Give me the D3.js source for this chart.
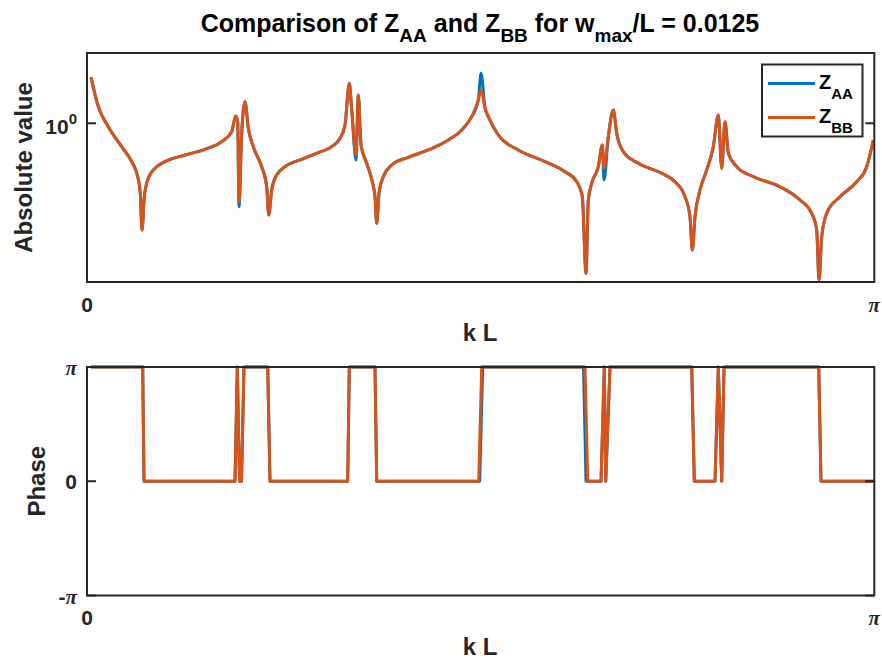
<!DOCTYPE html>
<html>
<head>
<meta charset="utf-8">
<script src="https://cdn.jsdelivr.net/npm/d3@7"></script>
<style>
body { margin: 0; background: #fff; }
text { font-family: "Liberation Sans", Arial, sans-serif; font-weight: bold; fill: #262626; }
.pi { font-family: "Liberation Serif", "DejaVu Serif", serif; font-style: italic; font-weight: bold; }
</style>
</head>
<body>
<div id="chart"></div>
<script>
// kL samples of the magnitude curves
var kL = [0.016, 0.0451, 0.085, 0.1385, 0.1784, 0.2023, 0.2127, 0.2195, 0.2287, 0.2446,
  0.2713, 0.3113, 0.3911, 0.4709, 0.5375, 0.5774, 0.5934, 0.6014, 0.6065, 0.6173,
  0.6305, 0.6437, 0.6636, 0.6971, 0.7171, 0.7251, 0.737, 0.757, 0.7901, 0.8567,
  0.923, 0.9765, 1.0096, 1.0295, 1.0467, 1.0563, 1.0734, 1.0826, 1.0934, 1.1161,
  1.1385, 1.1492, 1.156, 1.1652, 1.1824, 1.2159, 1.2821, 1.3619, 1.4417, 1.4952,
  1.5351, 1.5615, 1.5722, 1.5882, 1.6014, 1.6413, 1.7211, 1.8276, 1.9074, 1.9541,
  1.9765, 1.9912, 2.0004, 2.014, 2.0403, 2.0563, 2.063, 2.0802, 2.1002, 2.1137,
  2.1401, 2.1999, 2.2933, 2.3464, 2.3863, 2.4062, 2.4154, 2.4262, 2.4461, 2.4729,
  2.4992, 2.5192, 2.5327, 2.5459, 2.5591, 2.5926, 2.6588, 2.7653, 2.8452, 2.8918,
  2.9118, 2.921, 2.9318, 2.9517, 3.0048, 3.0714, 3.1113, 3.1377];

// |Z_AA|
var absAA = [2.417, 1.375, 0.937, 0.638, 0.479, 0.359, 0.261, 0.129, 0.2445, 0.348,
  0.422, 0.479, 0.544, 0.607, 0.703, 0.851, 1.150, 1.031, 0.202, 0.825,
  1.514, 0.908, 0.638, 0.435, 0.296, 0.172, 0.278, 0.371, 0.435, 0.501,
  0.569, 0.638, 0.750, 0.968, 2.154, 1.291, 0.494, 1.721, 0.659, 0.464,
  0.326, 0.2445, 0.1468, 0.261, 0.359, 0.449, 0.521, 0.599, 0.726, 0.880,
  1.135, 1.564, 2.610, 1.341, 1.135, 0.799, 0.599, 0.479, 0.395, 0.326,
  0.2445, 0.0562, 0.2296, 0.316, 0.435, 0.659, 0.337, 0.773, 1.291, 0.825,
  0.580, 0.464, 0.383, 0.326, 0.2445, 0.1666, 0.0879, 0.1666, 0.278, 0.408,
  0.638, 1.173, 0.422, 1.031, 0.562, 0.435, 0.359, 0.296, 0.2296, 0.178,
  0.129, 0.0494, 0.1135, 0.178, 0.2445, 0.326, 0.435, 0.726];

// |Z_BB|
var absBB = [2.417, 1.375, 0.937, 0.638, 0.479, 0.359, 0.261, 0.129, 0.2445, 0.348,
  0.422, 0.479, 0.544, 0.607, 0.703, 0.851, 1.150, 1.031, 0.222, 0.825,
  1.514, 0.908, 0.638, 0.435, 0.296, 0.172, 0.278, 0.371, 0.435, 0.501,
  0.569, 0.638, 0.750, 0.968, 2.154, 1.291, 0.544, 1.721, 0.659, 0.464,
  0.326, 0.2445, 0.1468, 0.261, 0.359, 0.449, 0.521, 0.599, 0.726, 0.880,
  1.135, 1.564, 1.895, 1.341, 1.135, 0.799, 0.599, 0.479, 0.395, 0.326,
  0.2445, 0.0562, 0.2296, 0.316, 0.435, 0.659, 0.422, 0.773, 1.291, 0.825,
  0.580, 0.464, 0.383, 0.326, 0.2445, 0.1666, 0.0879, 0.1666, 0.278, 0.408,
  0.638, 1.173, 0.422, 1.031, 0.562, 0.435, 0.359, 0.296, 0.2296, 0.178,
  0.129, 0.0494, 0.1135, 0.178, 0.2445, 0.326, 0.435, 0.726];

// phase curves (breakpoints)
var phaseKL_AA = [0.016, 0.2223, 0.2275, 0.5906, 0.5998, 0.6085, 0.6165, 0.6265, 0.7211, 0.7302,
  1.0403, 1.0467, 1.1492, 1.156, 1.567, 1.579, 1.9812, 1.9912, 2.0511, 2.0643,
  2.0698, 2.087, 2.413, 2.4234, 2.506, 2.5192, 2.5327, 2.5419, 2.9198, 2.929, 3.1377];
var phaseKL_BB = [0.016, 0.2223, 0.2275, 0.5906, 0.5998, 0.6085, 0.6165, 0.6265, 0.7211, 0.7302,
  1.0403, 1.0467, 1.1492, 1.156, 1.563, 1.575, 1.9872, 1.998, 2.0511, 2.0643,
  2.0698, 2.087, 2.413, 2.4234, 2.506, 2.5192, 2.5327, 2.5419, 2.9198, 2.929, 3.1377];
var phaseAA = [3.1416, 3.1416, 0, 0, 3.1416, 0, 0, 3.1416, 3.1416, 0,
  0, 3.1416, 3.1416, 0, 0, 3.1416, 3.1416, 0, 0, 3.1416,
  0, 3.1416, 3.1416, 0, 0, 3.1416, 0, 3.1416, 3.1416, 0, 0];
var phaseBB = phaseAA.slice();

var seriesNames = ["AA", "BB"];
var colors = ["#0072BD", "#D95319"];
var xTickLabels = ["0", "π"];
var phaseTickLabels = ["-π", "0", "π"];

var W = 882, H = 663;
var ink = "#262626";

var svg = d3.select("#chart").append("svg")
  .attr("width", W).attr("height", H);

// axes boxes
var top1 = {left: 87, right: 874.3, top: 53, bottom: 282};
var bot1 = {left: 87, right: 874.3, top: 367, bottom: 595.5};

var x1 = d3.scaleLinear().domain([0, Math.PI]).range([top1.left, top1.right]);
var y1 = d3.scaleLog().domain([0.0476, 3.85]).range([top1.bottom, top1.top]);
var x2 = d3.scaleLinear().domain([0, Math.PI]).range([bot1.left, bot1.right]);
var y2 = d3.scaleLinear().domain([-Math.PI, Math.PI]).range([bot1.bottom, bot1.top]);

svg.append("clipPath").attr("id", "clipTop").append("rect")
  .attr("x", top1.left).attr("y", top1.top)
  .attr("width", top1.right - top1.left).attr("height", top1.bottom - top1.top);
svg.append("clipPath").attr("id", "clipBot").append("rect")
  .attr("x", bot1.left).attr("y", bot1.top - 3)
  .attr("width", bot1.right - bot1.left).attr("height", bot1.bottom - bot1.top + 6);

// ---- magnitude plot ----
var magLine = d3.line()
  .curve(d3.curveMonotoneX)
  .x(function(d) { return x1(d[0]); })
  .y(function(d) { return y1(d[1]); });

[absAA, absBB].forEach(function(vals, i) {
  svg.append("path")
    .datum(kL.map(function(k, j) { return [k, vals[j]]; }))
    .attr("clip-path", "url(#clipTop)")
    .attr("fill", "none")
    .attr("stroke", colors[i])
    .attr("stroke-width", 3)
    .attr("stroke-linejoin", "round")
    .attr("d", magLine);
});

// ---- phase plot ----
var phLine = d3.line()
  .x(function(d) { return x2(d[0]); })
  .y(function(d) { return y2(d[1]); });

[[phaseKL_AA, phaseAA], [phaseKL_BB, phaseBB]].forEach(function(s, i) {
  svg.append("path")
    .datum(s[0].map(function(k, j) { return [k, s[1][j]]; }))
    .attr("clip-path", "url(#clipBot)")
    .attr("fill", "none")
    .attr("stroke", colors[i])
    .attr("stroke-width", 3)
    .attr("stroke-linejoin", "round")
    .attr("d", phLine);
});

// axes frames
function frame(b) {
  svg.append("rect")
    .attr("x", b.left).attr("y", b.top)
    .attr("width", b.right - b.left).attr("height", b.bottom - b.top)
    .attr("fill", "none").attr("stroke", ink).attr("stroke-width", 2);
}
frame(top1);
frame(bot1);

// y ticks, both sides, inward
function yTicks(scale, vals, b) {
  vals.forEach(function(v) {
    var yy = scale(v);
    svg.append("line").attr("x1", b.left).attr("x2", b.left + 9)
      .attr("y1", yy).attr("y2", yy).attr("stroke", ink).attr("stroke-width", 2);
    svg.append("line").attr("x1", b.right).attr("x2", b.right - 9)
      .attr("y1", yy).attr("y2", yy).attr("stroke", ink).attr("stroke-width", 2);
  });
}
yTicks(y1, [1], top1);
yTicks(y2, [-Math.PI, 0, Math.PI], bot1);

// top y tick label 10^0
var t10 = svg.append("text").attr("x", 77).attr("y", y1(1) + 11)
  .attr("text-anchor", "end").style("font-size", "21px");
t10.append("tspan").text("10");
t10.append("tspan").attr("dy", -10).style("font-size", "15px").text("0");

// phase tick labels
[-Math.PI, 0, Math.PI].forEach(function(v, i) {
  var lab = phaseTickLabels[i];
  var t = svg.append("text").attr("x", 77).attr("y", y2(v) + 8)
    .attr("text-anchor", "end").style("font-size", "21px");
  if (lab === "0") {
    t.text(lab);
  } else {
    if (lab[0] === "-") t.append("tspan").text("-");
    t.append("tspan").attr("class", "pi").text("π");
  }
});

// x tick labels
[[x1, 312], [x2, 625]].forEach(function(s) {
  [0, Math.PI].forEach(function(v, i) {
    svg.append("text")
      .attr("class", i === 1 ? "pi" : null)
      .attr("x", s[0](v)).attr("y", s[1])
      .attr("text-anchor", "middle").style("font-size", "21px")
      .text(xTickLabels[i]);
  });
});

// axis labels
svg.append("text").attr("x", 480).attr("y", 341)
  .attr("text-anchor", "middle").style("font-size", "24px").text("k L");
svg.append("text").attr("x", 480).attr("y", 655)
  .attr("text-anchor", "middle").style("font-size", "24px").text("k L");
svg.append("text")
  .attr("transform", "translate(32," + (top1.top + top1.bottom) / 2 + ") rotate(-90)")
  .attr("text-anchor", "middle").style("font-size", "24px").text("Absolute value");
svg.append("text")
  .attr("transform", "translate(45," + (bot1.top + bot1.bottom) / 2 + ") rotate(-90)")
  .attr("text-anchor", "middle").style("font-size", "24px").text("Phase");

// title with subscripts
var title = svg.append("text").attr("x", 480).attr("y", 32)
  .attr("text-anchor", "middle").style("font-size", "25px").style("fill", "#000");
var parts = [["Comparison of Z", 0], ["AA", 1], [" and Z", 0], ["BB", 1],
  [" for w", 0], ["max", 1], ["/L = 0.0125", 0]];
var down = false;
parts.forEach(function(p) {
  var ts = title.append("tspan").text(p[0]);
  if (p[1] && !down) { ts.attr("dy", 10).style("font-size", "19px"); down = true; }
  else if (!p[1] && down) { ts.attr("dy", -10); down = false; }
  else if (p[1]) ts.style("font-size", "19px");
});

// legend
var lg = svg.append("g");
lg.append("rect").attr("x", 762).attr("y", 64.5).attr("width", 100.5).attr("height", 72)
  .attr("fill", "#fff").attr("stroke", ink).attr("stroke-width", 2);
seriesNames.forEach(function(n, i) {
  var yy = 83.5 + i * 34;
  lg.append("line").attr("x1", 768).attr("x2", 815).attr("y1", yy).attr("y2", yy)
    .attr("stroke", colors[i]).attr("stroke-width", 3);
  var t = lg.append("text").attr("x", 819).attr("y", yy + 5).style("font-size", "20px").style("fill", "#000");
  t.append("tspan").text("Z");
  t.append("tspan").attr("dy", 10).style("font-size", "15px").text(n);
});
</script>
</body>
</html>
